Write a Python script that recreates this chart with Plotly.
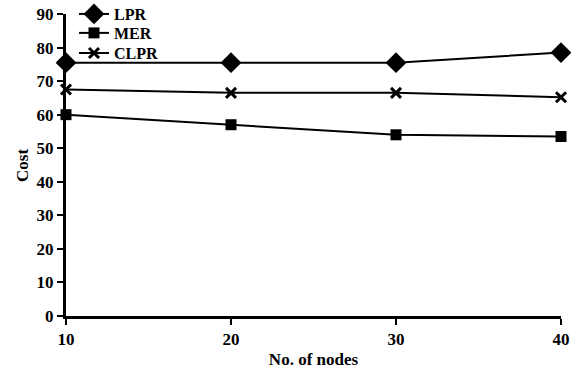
import plotly.graph_objects as go

nodes = [10, 20, 30, 40]
lpr = [75.5, 75.5, 75.5, 78.5]
mer = [60, 57, 54, 53.5]
clpr = [67.5, 66.5, 66.5, 65.2]
y_ticks = [0, 10, 20, 30, 40, 50, 60, 70, 80, 90]
x_ticks = [10, 20, 30, 40]

font = dict(family="Liberation Serif", size=17, color="black")
legend_font = dict(family="Liberation Serif", size=16, color="black")

fig = go.Figure()
fig.add_trace(go.Scatter(x=nodes, y=lpr, name="<b>LPR</b>", mode="lines+markers", legend="legend",
                         line=dict(color="black", width=2),
                         marker=dict(symbol="diamond", size=16, color="black"), cliponaxis=False))
fig.add_trace(go.Scatter(x=nodes, y=mer, name="<b>MER</b>", mode="lines+markers", legend="legend2",
                         line=dict(color="black", width=2),
                         marker=dict(symbol="square", size=11, color="black"), cliponaxis=False))
fig.add_trace(go.Scatter(x=nodes, y=clpr, name="<b>CLPR</b>", mode="lines+markers", legend="legend3",
                         line=dict(color="black", width=2),
                         marker=dict(symbol="x-thin", size=10, color="black",
                                     line=dict(color="black", width=3)), cliponaxis=False))

def leg(y):
    return dict(xref="container", yref="container", x=0.1296, y=y,
                xanchor="left", yanchor="middle", bgcolor="rgba(0,0,0,0)",
                font=legend_font)

fig.update_layout(
    width=571, height=369,
    margin=dict(l=66, r=10, t=14, b=53, autoexpand=False),
    paper_bgcolor="white", plot_bgcolor="white",
    font=font,
    showlegend=True,
    legend=leg(0.962), legend2=leg(0.9106), legend3=leg(0.856),
    xaxis=dict(range=[10, 40], tickvals=x_ticks, ticktext=[f"<b>{v}</b>" for v in x_ticks],
               showgrid=False, zeroline=False, showline=True, linecolor="black", linewidth=3,
               ticks="outside", ticklen=6, tickwidth=2, tickcolor="black",
               tickfont=dict(size=17), ticklabeloverflow="allow", automargin=False,
               title=dict(text="<b>No. of nodes</b>",
                          font=dict(family="Liberation Serif", size=17))),
    yaxis=dict(range=[0, 90], tickvals=y_ticks, ticktext=[f"<b>{v}</b>" for v in y_ticks],
               showgrid=False, zeroline=False, showline=True, linecolor="black", linewidth=3,
               ticks="outside", ticklen=6, tickwidth=2, tickcolor="black",
               tickfont=dict(size=17), automargin=False),
    annotations=[dict(text="<b>Cost</b>", xref="paper", yref="paper", x=-0.089, y=0.5,
                      textangle=-90, showarrow=False, xanchor="center", yanchor="middle",
                      font=dict(family="Liberation Serif", size=17, color="black"))],
)

fig.write_html("out.html", config={"displayModeBar": False},
               post_script="document.body.style.margin='0';document.body.style.overflow='hidden';")
